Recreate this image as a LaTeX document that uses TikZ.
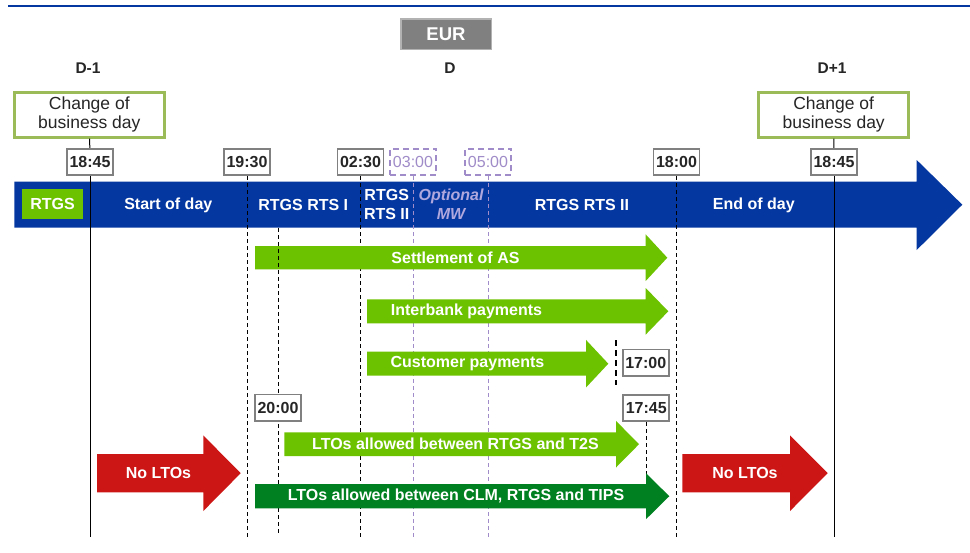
\documentclass[tikz,border=0pt]{standalone}
\usepackage{fontspec}
\setmainfont{Liberation Sans}
\definecolor{barblue}{RGB}{5,55,160}
\definecolor{lgreen}{RGB}{109,194,0}
\definecolor{dgreen}{RGB}{0,128,32}
\definecolor{ltored}{RGB}{204,22,22}
\definecolor{cbdgreen}{RGB}{155,187,89}
\definecolor{boxgrey}{RGB}{128,128,128}
\definecolor{eurgrey}{RGB}{128,128,128}
\definecolor{mwpurple}{RGB}{160,140,200}
\definecolor{mwtext}{RGB}{175,168,222}
\definecolor{txtdark}{RGB}{38,38,38}
\tikzset{
  timebox/.style={draw=boxgrey,line width=1.8pt,fill=white,inner sep=1pt,minimum width=46pt,minimum height=26.5pt,text=txtdark,font=\bfseries\fontsize{16}{18}\selectfont},
  mwbox/.style={draw=mwpurple,dash pattern=on 6pt off 4pt,line width=1.8pt,fill=white,inner sep=1pt,minimum width=46pt,minimum height=26.5pt,text=mwpurple,font=\fontsize{16}{18}\selectfont},
  cbdbox/.style={draw=cbdgreen,line width=3pt,fill=white,minimum width=150pt,minimum height=45pt,align=center,text=txtdark,font=\fontsize{17.5}{19}\selectfont},
  daylabel/.style={text=txtdark,font=\bfseries\fontsize{15.5}{18}\selectfont},
  bartext/.style={text=white,align=center,font=\bfseries\fontsize{16}{19}\selectfont},
  arrtext/.style={text=white,font=\bfseries\fontsize{16}{18}\selectfont},
  vline/.style={black,line width=1pt},
  dline/.style={black,line width=1pt,dash pattern=on 4pt off 3pt},
  pline/.style={mwpurple,line width=0.8pt,dash pattern=on 4pt off 3pt},
}
% colour, start, head base, tip, middle, half body, half head
\newcommand{\tlarrow}[7]{%
  \fill[#1] (#2,#5-#6) -- (#3,#5-#6) -- (#3,#5-#7) -- (#4,#5) -- (#3,#5+#7)
    -- (#3,#5+#6) -- (#2,#5+#6) -- cycle;}
\begin{document}
\begin{tikzpicture}[x=1pt,y=-1pt]
\useasboundingbox (0,0) rectangle (970,552);
\draw[barblue,line width=2pt] (8,6) -- (970,6);
\node[fill=eurgrey,draw=gray!60,line width=1.5pt,minimum width=90.5pt,minimum height=30.5pt,text=white,font=\bfseries\fontsize{18.5}{20}\selectfont] (eur) at (446,34) {EUR};
\node[daylabel] (dm1) at (88,68) {D-1};
\node[daylabel] (d) at (450,68) {D};
\node[daylabel] (dp1) at (832,68) {D+1};
% business day bar
\fill[barblue] (14.3,181.7) -- (916.7,181.7) -- (916.7,160) -- (962.3,204.7)
  -- (916.7,250) -- (916.7,227.7) -- (14.3,227.7) -- cycle;
\node[fill=lgreen,minimum width=61pt,minimum height=30pt,text=white,font=\bfseries\fontsize{16}{18}\selectfont] (rtgs) at (52.5,204) {RTGS};
\node[bartext] (sod) at (168.3,205) {Start of day};
\node[bartext] (rts1) at (303.3,205) {RTGS RTS I};
\node[bartext] (rts2a) at (386.7,204) {RTGS\\RTS II};
\node[bartext,text=mwtext,font=\bfseries\itshape\fontsize{16}{19}\selectfont] (mw) at (451,204) {Optional\\MW};
\node[bartext] (rts2b) at (582,205) {RTGS RTS II};
\node[bartext] (eod) at (753.8,205) {End of day};
% change of business day
\node[cbdbox] (cbda) at (89.3,114.7) {Change of\\business day};
\node[cbdbox] (cbdb) at (833.7,114.7) {Change of\\business day};
\node[timebox] (t1845a) at (90,162) {18:45};
\node[timebox] (t1930) at (247,162) {19:30};
\node[timebox] (t0230) at (360.5,162) {02:30};
\node[mwbox] (t0300) at (413,162) {03:00};
\node[mwbox] (t0500) at (488,162) {05:00};
\node[timebox] (t1800) at (676.5,162) {18:00};
\node[timebox] (t1845b) at (834,162) {18:45};
\draw[vline] (cbda) -- (t1845a);
\draw[vline] (cbdb) -- (t1845b);
\draw[vline] (t1845a) -- (t1845a |- 0,537);
\draw[vline] (t1845b) -- (t1845b |- 0,537);
\draw[dline] (t1930) -- (t1930 |- 0,537);
\draw[dline] (t0230) -- (t0230 |- 0,537);
\draw[pline] (t0300) -- (t0300 |- 0,537);
\draw[pline] (t0500) -- (t0500 |- 0,537);
\draw[dline] (t1800) -- (t1800 |- 0,537);
% windows
\tlarrow{lgreen}{255}{645.7}{667.3}{257.7}{11.7}{23.3}
\node[arrtext] (sas) at (455.5,258) {Settlement of AS};
\coordinate (a2000) at (278,228);
\coordinate (b2000) at (278,535);
\draw[dline] (a2000) -- (b2000);
\node[timebox] (t2000) at (278,407.7) {20:00};
\tlarrow{lgreen}{367}{645.7}{668.3}{311.3}{12}{23.3}
\node[arrtext] (ibp) at (466.5,311) {Interbank payments};
\tlarrow{lgreen}{367}{586}{608.3}{363.7}{12}{23.8}
\node[arrtext] (cp) at (467.5,364) {Customer payments};
\node[timebox] (t1700) at (645.8,362.8) {17:00};
\coordinate (a1700) at (616,340);
\coordinate (b1700) at (616,385);
\draw[black,line width=2pt,dash pattern=on 6pt off 4pt] (a1700) -- (b1700);
\node[timebox] (t1745) at (646.3,408) {17:45};
\coordinate (b1745) at (646.3,495);
\draw[dline] (t1745) -- (b1745);
\tlarrow{lgreen}{284.3}{616}{639}{444.2}{11.9}{23.3}
\node[arrtext] (lto1) at (455.5,444) {LTOs allowed between RTGS and T2S};
\tlarrow{dgreen}{255}{646}{669.3}{496.2}{12.2}{23}
\node[arrtext] (lto2) at (456,496) {LTOs allowed between CLM, RTGS and TIPS};
\tlarrow{ltored}{97}{203.3}{240.7}{473.2}{19.2}{37.8}
\node[arrtext] (nolto1) at (158.5,473) {No LTOs};
\tlarrow{ltored}{682.3}{790}{827.7}{473.2}{19.2}{37.8}
\node[arrtext] (nolto2) at (745,473) {No LTOs};
\end{tikzpicture}
\end{document}
